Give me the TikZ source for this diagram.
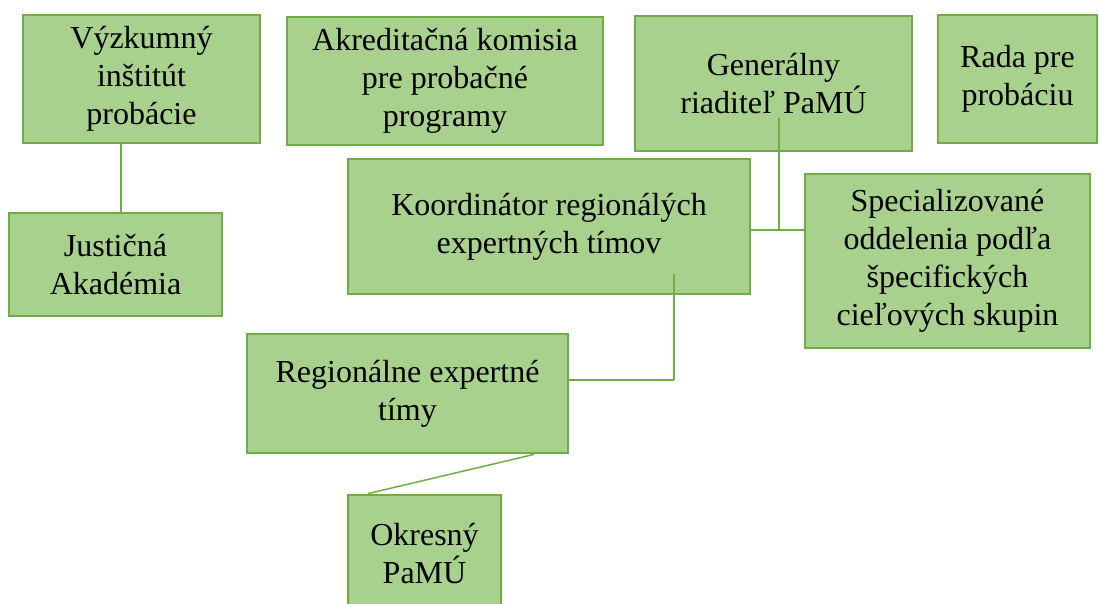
\documentclass[tikz,border=0pt]{standalone}
\usepackage{fontspec}
\setmainfont{Liberation Serif}
\definecolor{boxfill}{HTML}{A9D18E}
\definecolor{boxline}{HTML}{70AD47}
\begin{document}
\begin{tikzpicture}[x=1pt,y=-1pt,
  orgbox/.style={draw=boxline,fill=boxfill,line width=2.8pt,inner sep=0pt,
    align=center,font=\fontsize{32}{38}\selectfont},
  link/.style={draw=boxline,line width=2pt}]
\clip (0,0) rectangle (1099,603);
\node[orgbox,minimum width=237pt,minimum height=128pt] (vyskum) at (141.5,79) {Výzkumný\\inštitút\\probácie};
\node[orgbox,minimum width=316pt,minimum height=128pt] (akred) at (445,81) {Akreditačná komisia\\pre probačné\\programy};
\node[orgbox,minimum width=277pt,minimum height=135pt] (general) at (773.5,83.5) {Generálny\\riaditeľ PaMÚ};
\node[orgbox,minimum width=159pt,minimum height=128pt] (rada) at (1017.5,79) {Rada pre\\probáciu};
\node[orgbox,minimum width=402pt,minimum height=135pt] (koord) at (549,226.5) {Koordinátor regionálých\\expertných tímov};
\node[orgbox,minimum width=285pt,minimum height=174pt] (special) at (947.5,261) {Specializované\\oddelenia podľa\\špecifických\\cieľových skupin};
\node[orgbox,minimum width=213pt,minimum height=103pt] (justic) at (115.5,264.5) {Justičná\\Akadémia};
\node[orgbox,minimum width=321pt,minimum height=119pt] (region) at (407.5,393.5) {Regionálne expertné\\tímy};
\node[orgbox,minimum width=153pt,minimum height=118pt] (okres) at (424.5,554) {Okresný\\PaMÚ};
\coordinate (vj) at (121,143);
\coordinate (gtop) at (779,118);
\coordinate (gj) at (779,230);
\coordinate (kt) at (674,274);
\coordinate (kb) at (674,380);
\draw[link] (vj) -- (vj |- justic.north);
\draw[link] (gtop) -- (gj);
\draw[link] (gj -| koord.east) -- (gj -| special.west);
\draw[link] (kt) -- (kb);
\draw[link,line width=1.5pt] (kb) -- (kb -| region.east);
\draw[link,line width=1.5pt] ([xshift=126.5pt]region.south) -- ([xshift=-56.5pt]okres.north);
\end{tikzpicture}
\end{document}
